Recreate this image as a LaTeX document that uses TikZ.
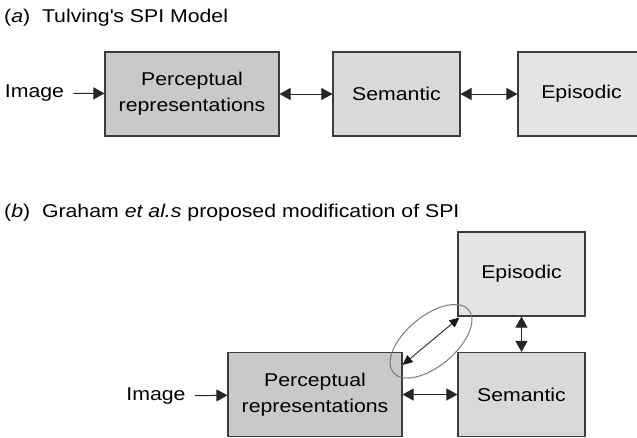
\documentclass[tikz,border=0pt]{standalone}
\usepackage{fontspec}
\setmainfont{Liberation Sans}[FakeStretch=1.15]
\usetikzlibrary{arrows.meta, shapes.geometric}
\definecolor{edgegray}{HTML}{3C3C3C}
\definecolor{percfill}{HTML}{C9C9C9}
\definecolor{semfill}{HTML}{D9D9D9}
\definecolor{epifill}{HTML}{E4E4E4}
\definecolor{ringgray}{HTML}{7A7A7A}
\begin{document}
\begin{tikzpicture}[x=1pt, y=-1pt, font=\fontsize{18.5}{26}\selectfont,
    box/.style={draw=edgegray, line width=1.1pt, minimum height=84pt, align=center, inner sep=0pt},
    lbl/.style={inner xsep=9pt, inner ysep=0pt},
    ttl/.style={anchor=base west, inner sep=0pt},
    arr/.style={-{Triangle[length=11pt, width=12pt]}, line width=1pt, draw=black!85},
    darr/.style={{Triangle[length=11pt, width=12pt]}-{Triangle[length=11pt, width=12pt]}, line width=1pt, draw=black!85},
    thinarr/.style={{Triangle[length=10pt, width=9pt]}-{Triangle[length=10pt, width=9pt]}, line width=.8pt, draw=black!90}]
            \useasboundingbox(0, 0)rectangle(637, 437);
            \clip(0, 0)rectangle(637, 437);
            \node[ttl](titleA)at(4, 22){(\textit{a})\ \ Tulving\textquotesingle s SPI Model};
            \node[lbl](imgA)at(34.5, 93){Image};
            \node[box, fill=percfill, minimum width=174pt](percA)at(192, 94){Perceptual\\representations};
            \node[box, fill=semfill, minimum width=127pt](semA)at(396.5, 94){Semantic};
            \node[box, fill=epifill, minimum width=127pt](epiA)at(581.5, 94){Episodic};
            \draw[arr](imgA)--(percA);
            \draw[darr](percA)--(semA);
            \draw[darr](semA)--(epiA);
            \node[ttl](titleB)at(4, 217){(\textit{b})\ \ Graham \textit{et al.s} proposed modification of SPI};
            \node[box, fill=epifill, minimum width=127pt](epiB)at(521.5, 274){Episodic};
            \node[box, fill=semfill, minimum width=127pt](semB)at(521.5, 394.5){Semantic};
            \node[box, fill=percfill, minimum width=174pt](percB)at(315, 394.5){Perceptual\\representations};
            \node[lbl](imgB)at(156, 396){Image};
            \draw[arr](imgB)--(percB);
            \draw[darr](percB)--(semB);
            \draw[darr](epiB)--(semB);
            \draw[thinarr]([yshift=-13pt]percB.north east)--([xshift=2pt, yshift=-1pt]epiB.south west)
                node[midway, sloped, ellipse, draw=ringgray, line width=1pt, minimum width=98pt, minimum height=50pt](ring){};
        \end{tikzpicture}
\end{document}
